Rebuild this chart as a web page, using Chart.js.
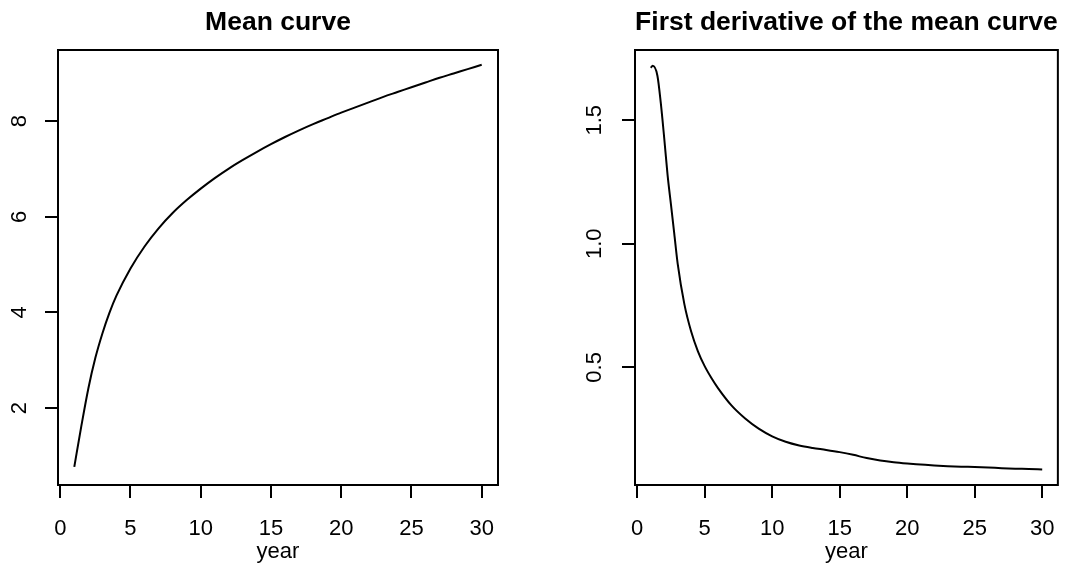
<!DOCTYPE html>
<html>
<head>
<meta charset="utf-8">
<script src="https://cdn.jsdelivr.net/npm/chart.js@4.4.1/dist/chart.umd.min.js"></script>
<style>
  html, body { margin: 0; padding: 0; background: #fff; }
  #wrap { position: relative; width: 1073px; height: 571px; }
  canvas { position: absolute; top: 0; }
</style>
</head>
<body>
<div id="wrap">
  <canvas id="meanChart" width="537" height="571" style="left:0"></canvas>
  <canvas id="derivChart" width="537" height="571" style="left:536px"></canvas>
</div>
<script>
// values
const meanYears = [1, 1.5, 2, 2.5, 3, 3.5, 4, 5, 6, 7, 8, 9, 10, 11, 12, 13, 14, 15,
                   16, 17, 18, 19, 20, 21, 22, 23, 24, 25, 26, 27, 28, 29, 30];
const meanValues = [0.77, 1.62, 2.41, 3.05, 3.56, 3.99, 4.35, 4.92, 5.38, 5.76, 6.08, 6.35, 6.59, 6.81,
                    7.01, 7.19, 7.36, 7.52, 7.67, 7.81, 7.94, 8.06, 8.18, 8.29, 8.40, 8.51,
                    8.61, 8.71, 8.81, 8.91, 9.00, 9.09, 9.18];

const derivYears = [1, 1.15, 1.5, 1.75, 2, 2.25, 2.5, 2.75, 3, 3.5, 4, 4.5, 5, 5.5, 6, 7, 8, 9, 10,
                    11, 12, 13, 14, 15, 16, 17, 18, 19, 20, 21, 22, 23, 24, 25, 26, 27, 28, 29, 30];
const derivValues = [1.712, 1.720, 1.68, 1.57, 1.43, 1.28, 1.16, 1.04, 0.92, 0.755, 0.645, 0.565, 0.505,
                     0.457, 0.415, 0.345, 0.293, 0.252, 0.221, 0.199, 0.184, 0.174, 0.166, 0.157,
                     0.146, 0.133, 0.123, 0.116, 0.111, 0.107, 0.103, 0.100, 0.098, 0.097, 0.095,
                     0.092, 0.090, 0.089, 0.087];

const yearTicks = [0, 5, 10, 15, 20, 25, 30];
const meanTicks = [2, 4, 6, 8];
const derivTicks = [0.5, 1.0, 1.5];

Chart.defaults.color = '#000';
Chart.defaults.font.family = '"Liberation Sans", Arial, Helvetica, sans-serif';

const axisFont = { size: 22 };
const titleFont = { size: 26.5, weight: 'bold' };

// R-style box around the plot plus rotated y labels
function rBox(fmt, gap) {
    return {
        id: 'rBox',
        afterDraw(chart) {
            const ctx = chart.ctx;
            const a = chart.chartArea;
            const y = chart.scales.y;
            ctx.save();
            ctx.strokeStyle = '#000';
            ctx.lineWidth = 2;
            ctx.strokeRect(a.left, a.top, a.right - a.left, a.bottom - a.top);
            ctx.fillStyle = '#000';
            ctx.font = '22px "Liberation Sans", Arial, Helvetica, sans-serif';
            ctx.textAlign = 'center';
            ctx.textBaseline = 'middle';
            y.ticks.forEach((t) => {
                ctx.save();
                ctx.translate(a.left - gap, y.getPixelForValue(t.value));
                ctx.rotate(-Math.PI / 2);
                ctx.fillText(fmt(t.value), 0, 0);
                ctx.restore();
            });
            ctx.restore();
        }
    };
}

const tickGrid = { drawOnChartArea: false, drawTicks: true, tickLength: 13, color: '#000', lineWidth: 2 };

function makeScales(yMin, yMax, yTicks, yWidth) {
    return {
        x: {
            type: 'linear',
            min: -0.16,
            max: 31.16,
            afterBuildTicks: (s) => { s.ticks = yearTicks.map((v) => ({ value: v })); },
            afterFit: (s) => { s.height = 86; },
            grid: tickGrid,
            border: { display: false },
            ticks: { padding: 18, font: axisFont, maxRotation: 0, autoSkip: false },
            title: { display: true, text: 'year', font: axisFont, padding: { top: 0, bottom: 6 } }
        },
        y: {
            type: 'linear',
            min: yMin,
            max: yMax,
            afterBuildTicks: (s) => { s.ticks = yTicks.map((v) => ({ value: v })); },
            afterFit: (s) => { s.width = yWidth; },
            grid: tickGrid,
            border: { display: false },
            ticks: { display: false }
        }
    };
}

function makeChart(id, title, xs, ys, yMin, yMax, yTicks, yWidth, padRight, fmt, gap) {
    return new Chart(document.getElementById(id), {
        type: 'line',
        data: {
            datasets: [{
                data: xs.map((x, i) => ({ x: x, y: ys[i] })),
                borderColor: '#000',
                borderWidth: 2,
                pointRadius: 0,
                cubicInterpolationMode: 'monotone',
                fill: false
            }]
        },
        options: {
            responsive: false,
            animation: false,
            layout: { padding: { left: 0, right: padRight, top: 0, bottom: 0 } },
            plugins: {
                legend: { display: false },
                tooltip: { enabled: false },
                title: {
                    display: true,
                    text: title,
                    fullSize: false,
                    font: titleFont,
                    padding: { top: 7, bottom: 11.2 }
                }
            },
            scales: makeScales(yMin, yMax, yTicks, yWidth)
        },
        plugins: [rBox(fmt, gap)]
    });
}

makeChart('meanChart', 'Mean curve', meanYears, meanValues,
    0.39, 9.49, meanTicks, 58, 39, (v) => String(v), 38);

makeChart('derivChart', 'First derivative of the mean curve', derivYears, derivValues,
    0.024, 1.784, derivTicks, 99, 1.5, (v) => v.toFixed(1), 40);
</script>
</body>
</html>
